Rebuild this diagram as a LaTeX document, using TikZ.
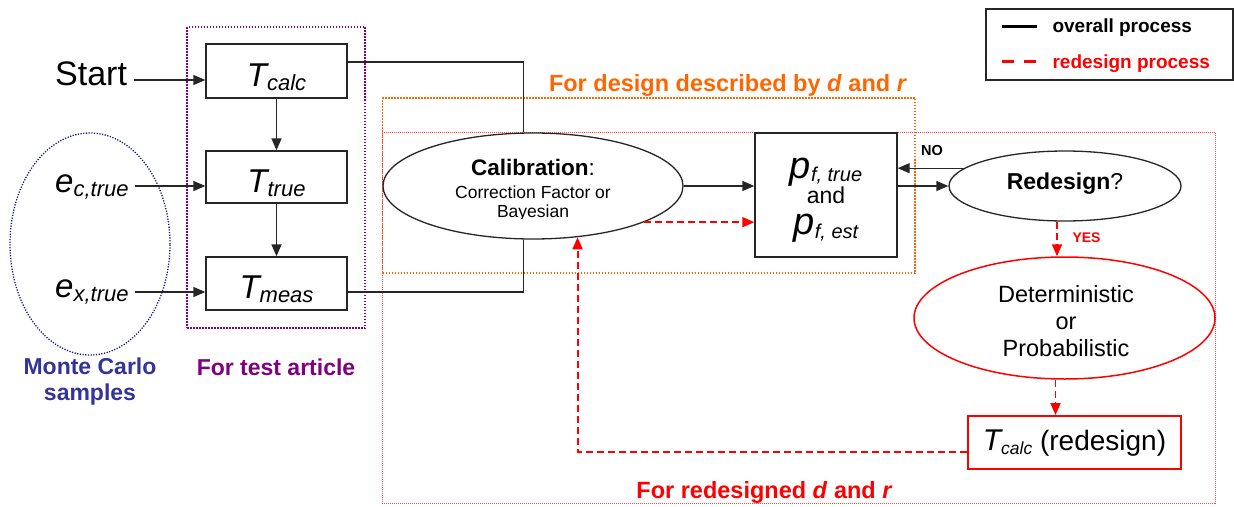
\documentclass[tikz,border=0pt]{standalone}
\usepackage{fontspec}
\setmainfont{Liberation Sans}
\usetikzlibrary{arrows.meta,calc,shapes.geometric}

\definecolor{orng}{RGB}{255,102,0}
\definecolor{purp}{RGB}{128,0,128}
\definecolor{navyb}{RGB}{20,20,130}
\definecolor{mcblue}{RGB}{51,51,153}
\definecolor{rd}{RGB}{255,0,0}
\definecolor{pinkred}{RGB}{255,70,70}

\newcommand\fs[1]{\fontsize{#1}{#1}\selectfont}
% italic symbol with a lowered subscript: sizes, symbol, subscript, drop
\newcommand\symsub[5]{{\fs{#1}\itshape #3\raisebox{-#5}{\fs{#2}#4}}}

\tikzset{
  line/.style={line width=1.3pt, draw=black!85},
  arr/.style={line, -{Triangle[length=12pt,width=10pt]}},
  rline/.style={draw=rd, line width=1.9pt, dash pattern=on 7pt off 4pt},
  rarr/.style={rline, -{Triangle[length=12pt,width=10pt]}},
  box/.style={draw=black!85, line width=1.3pt, rectangle, inner sep=0pt},
  tbox/.style={box, minimum width=141pt, text height=30pt, text depth=0pt},
  oval/.style={draw=black!85, line width=1.3pt, ellipse, inner sep=0pt},
  lbl/.style={inner sep=0pt, anchor=base},
  dots/.style={line width=1.5pt, dash pattern=on 1.5pt off 1.5pt},
}

\begin{document}
\begin{tikzpicture}[x=1pt,y=-1pt]
\useasboundingbox (0,0) rectangle (1234,506);

% grouping frames
\node[draw=purp, dots, minimum width=178pt, minimum height=301pt, inner sep=0pt] (testframe) at (276,177.5) {};
\node[draw=navyb, line width=1.3pt, dash pattern=on 1.2pt off 1.5pt, ellipse, minimum width=160pt, minimum height=222pt, inner sep=0pt] (mcframe) at (90,244) {};
\node[draw=orng, dots, minimum width=532.5pt, minimum height=175pt, inner sep=0pt] (designframe) at (648.75,185.5) {};
\node[draw=pinkred, line width=0.8pt, dash pattern=on 1pt off 1pt, minimum width=833pt, minimum height=371pt, inner sep=0pt] (redesignframe) at (798.5,317.5) {};

% frame captions
\node[lbl, font=\fs{23.5}\bfseries, text=orng] (designlbl) at (728,91) {For design described by \textit{d} and \textit{r}};
\node[lbl, font=\fs{23.5}\bfseries, text=rd] (redesignlbl) at (764.5,498) {For redesigned \textit{d} and \textit{r}};
\node[lbl, font=\fs{23}\bfseries, text=purp] (testlbl) at (276,375) {For test article};
\node[lbl, font=\fs{23}\bfseries, text=mcblue] (mclbl1) at (90,374) {Monte Carlo};
\node[lbl, font=\fs{23}\bfseries, text=mcblue] (mclbl2) at (90,400) {samples};

% inputs
\node[inner sep=0pt, anchor=base west] (start) at (55,85) {\fs{34}Start};
\node[inner sep=0pt, anchor=base west] (ec) at (55,192) {\symsub{33}{22}{e}{c,true}{4pt}};
\node[inner sep=0pt, anchor=base west] (ex) at (55,297) {\symsub{33}{22}{e}{x,true}{4pt}};

% test article chain
\node[tbox, minimum height=54pt] (tcalc) at (276.5,71) {\symsub{33}{22}{T}{calc}{4pt}};
\node[tbox, minimum height=52pt] (ttrue) at (276.5,177) {\symsub{33}{22}{T}{true}{4pt}};
\node[tbox, minimum height=53pt] (tmeas) at (276.5,283.5) {\symsub{33}{22}{T}{meas}{4pt}};

\coordinate (tcalc-in) at ([yshift=-9pt]tcalc.west);
\coordinate (ttrue-in) at ([yshift=-9pt]ttrue.west);
\coordinate (tmeas-in) at ([yshift=-8.5pt]tmeas.west);
\draw[arr] ($(start.east |- tcalc-in)+(7,0)$) -- (tcalc-in);
\draw[arr] ($(ec.east |- ttrue-in)+(6,0)$) -- (ttrue-in);
\draw[arr] ($(ex.east |- tmeas-in)+(6,0)$) -- (tmeas-in);
\draw[arr] (tcalc.south) -- (ttrue.north);
\draw[arr] (ttrue.south) -- (tmeas.north);

% calibration
\node[oval, minimum width=300pt, minimum height=106pt] (calib) at (533,186) {};
\node[lbl, font=\fs{22.5}] (caltitle) at (533,175) {\textbf{Calibration}:};
\node[lbl, font=\fs{17.5}] (calsub) at (533,198) {Correction Factor or};
\begin{scope}
  \clip (440,195) rectangle (630,218.5);
  \node[lbl, font=\fs{17.5}] (calsub2) at (533,217) {Bayesian};
\end{scope}

\coordinate (tcalc-out) at ([yshift=9pt]tcalc.east);
\coordinate (tmeas-out) at ([yshift=-8.5pt]tmeas.east);
\draw[line] (tcalc-out) -| (calib.100);
\draw[line] (tmeas-out) -| (calib.260);

% failure probabilities
\node[box, minimum width=142pt, minimum height=124pt] (pf) at (826,195) {};
\node[lbl] (pftrue) at (826,178) {\symsub{38}{20}{p}{f, true}{3pt}};
\node[lbl, font=\fs{23}] (pfand) at (826,203) {and};
\node[lbl] (pfest) at (826,234) {\symsub{38}{20}{p}{f, est}{4pt}};

\draw[arr] (calib.east) -- (calib.east -| pf.west);
\draw[rarr] (calib.-18) -- (calib.-18 -| pf.west);

% redesign decision
\node[oval, minimum width=232pt, minimum height=70pt] (redesign) at (1065,186) {};
\node[lbl, font=\fs{23}] (redesigntxt) at (1065,189) {\textbf{Redesign}?};
\draw[arr] (pf.east |- redesign.west) -- (redesign.west);
\draw[arr] (redesign.170) -- (redesign.170 -| pf.east);
\node[lbl, font=\fs{14.5}\bfseries] (nolbl) at (932,155) {NO};

\node[draw=rd, line width=1.5pt, ellipse, inner sep=0pt, minimum width=301pt, minimum height=122pt] (det) at (1064.5,318) {};
\node[lbl, font=\fs{23.5}] (dettxt1) at (1066,302) {Deterministic};
\node[lbl, font=\fs{23.5}] (dettxt2) at (1066,329) {or};
\node[lbl, font=\fs{23.5}] (dettxt3) at (1066,356) {Probabilistic};

\coordinate (yes-top) at ([xshift=-8pt]redesign.south);
\draw[rarr] (yes-top) -- (yes-top |- det.north);
\node[lbl, font=\fs{14}\bfseries, text=rd] (yeslbl) at (1086.5,242) {YES};

\node[draw=rd, line width=2pt, rectangle, inner sep=0pt, minimum width=213pt, minimum height=53pt,
      text height=15pt, text depth=0pt] (tred) at (1074.5,442.5)
      {\symsub{30}{17.5}{T}{calc}{4pt}\fs{28} (redesign)};

\coordinate (det-out) at ([xshift=-9pt]det.south);
\draw[rarr] (det-out) -- (det-out |- tred.north);
\draw[rarr] ([yshift=-9.5pt]tred.west) -| (calib.-49);

% legend
\node[draw=black!85, line width=1.3pt, minimum width=247pt, minimum height=71pt, inner sep=0pt] (legend) at (1109.5,44.5) {};
\draw[black, line width=3pt] ($(legend.north west)+(17,18)$) -- ++(35,0);
\draw[rd, line width=3pt, dash pattern=on 12pt off 10pt] ($(legend.north west)+(17,53)$) -- ++(35,0);
\node[inner sep=0pt, anchor=base west, font=\fs{19}\bfseries] (legov) at ($(legend.north west)+(67,24)$) {overall process};
\node[inner sep=0pt, anchor=base west, font=\fs{19}\bfseries, text=rd] (legre) at ($(legend.north west)+(67,60)$) {redesign process};
\end{tikzpicture}
\end{document}
